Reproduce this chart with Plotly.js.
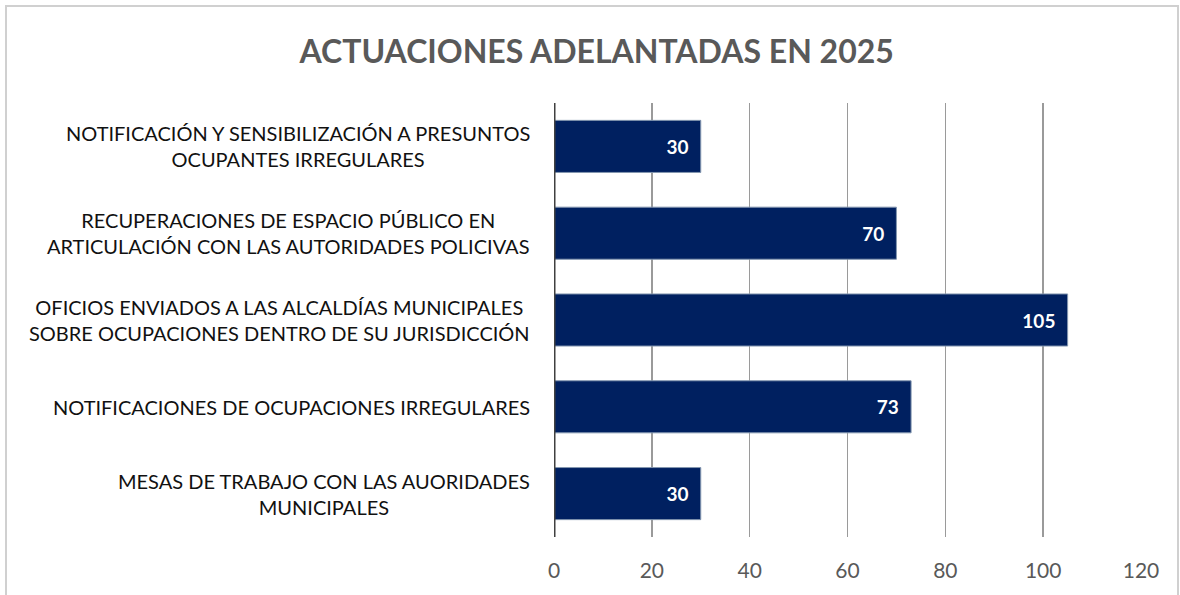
<!DOCTYPE html>
<html>
<head>
<meta charset="utf-8">
<script src="https://cdn.plot.ly/plotly-3.0.1.min.js"></script>
<style>
  html, body {margin: 0; padding: 0; overflow: hidden; background: #fff;}
  #chart {position: absolute; left: 5px; top: 5px; width: 1170px; height: 600px;
          border: 2px solid #d0d0d0;}
</style>
</head>
<body>
<div id="chart"></div>
<script>
const categories = [
    "NOTIFICACIÓN Y SENSIBILIZACIÓN A PRESUNTOS<br>OCUPANTES IRREGULARES",
    "RECUPERACIONES DE ESPACIO PÚBLICO EN<br>ARTICULACIÓN CON LAS AUTORIDADES POLICIVAS",
    "OFICIOS ENVIADOS A LAS ALCALDÍAS MUNICIPALES<br>SOBRE OCUPACIONES DENTRO DE SU JURISDICCIÓN",
    "NOTIFICACIONES DE OCUPACIONES IRREGULARES",
    "MESAS DE TRABAJO CON LAS AUORIDADES<br>MUNICIPALES"
];
const values = [30, 70, 105, 73, 30];
const xTicks = [0, 20, 40, 60, 80, 100, 120];

const labelFont = {family: "Lato, 'Open Sans', sans-serif", size: 20, color: "#111111"};

const data = [{
    type: "bar",
    orientation: "h",
    y: categories,
    x: values,
    text: values.map(v => v + "\u00a0\u00a0"),
    textposition: "inside",
    insidetextanchor: "end",
    textfont: {family: "Lato, sans-serif", size: 19, color: "#ffffff", weight: "bold"},
    marker: {color: "#002060", line: {color: "#8497b0", width: 1}},
    hoverinfo: "none"
}];

// category labels drawn as annotations so the two lines stay centred
const annotations = categories.map(c => ({
    xref: "paper", yref: "y", x: 0, y: c, xshift: -22,
    xanchor: "right", yanchor: "middle", align: "center",
    text: c, showarrow: false, font: labelFont
}));

const layout = {
    width: 1170, height: 600,
    margin: {l: 547, r: 36, t: 96, b: 70},
    paper_bgcolor: "#ffffff", plot_bgcolor: "#ffffff",
    title: {text: "<b>ACTUACIONES ADELANTADAS EN 2025</b>",
            font: {family: "Lato, sans-serif", size: 32, color: "#595959"},
            x: 0.504, xanchor: "center", y: 0.925, yanchor: "middle"},
    bargap: 0.4,
    showlegend: false,
    xaxis: {range: [0, 120], tickvals: xTicks, ticktext: xTicks.map(String),
            showgrid: true, gridcolor: "#9a9a9a", gridwidth: 1.5,
            zeroline: false, showline: false,
            ticks: "outside", ticklen: 15, tickcolor: "rgba(0,0,0,0)",
            tickfont: {family: "Lato, sans-serif", size: 21, color: "#595959"}},
    yaxis: {autorange: "reversed", showticklabels: false, showgrid: false,
            zeroline: false, showline: false, ticks: ""},
    shapes: [{type: "line", xref: "x", yref: "paper", x0: 0, x1: 0, y0: 0, y1: 1,
              line: {color: "#404040", width: 3}}],
    annotations: annotations
};

Plotly.newPlot("chart", data, layout, {displayModeBar: false, staticPlot: true});
</script>
</body>
</html>
